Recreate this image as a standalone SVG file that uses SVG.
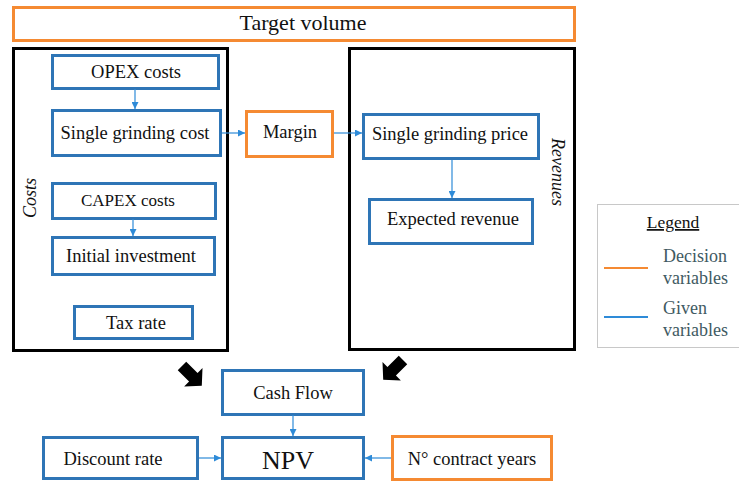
<svg xmlns="http://www.w3.org/2000/svg" width="739" height="482" viewBox="0 0 739 482" font-family="'Liberation Serif', 'DejaVu Serif', serif">
<defs>
<style>
text{fill:#111;text-anchor:middle}
.blue{fill:#fff;stroke:#2E75B6;stroke-width:3}
.orange{fill:#fff;stroke:#F58A32;stroke-width:3}
.frame{fill:none;stroke:#000;stroke-width:3}
.lbl{font-size:18.5px}
.link{stroke:#2E8BD8;stroke-width:1.2;fill:none;marker-end:url(#tip)}
.leg{font-size:18px;fill:#3F5A62;text-anchor:start}
</style>
<marker id="tip" viewBox="0 0 10 10" refX="10" refY="5" markerWidth="7" markerHeight="7" markerUnits="userSpaceOnUse" orient="auto">
<path d="M0,0 L10,5 L0,10 z" fill="#2E8BD8"/>
</marker>
<path id="block" d="M0,-6 L16,-6 L16,-13 L28,0 L16,13 L16,6 L0,6 z" fill="#000"/>
</defs>

<g id="target-volume">
<rect class="orange" x="13.5" y="7.5" width="561" height="33"/>
<text x="303" y="30" font-size="22">Target volume</text>
</g>

<g id="costs">
<rect class="frame" x="13.5" y="48.5" width="214" height="302"/>
<text transform="translate(36,198) rotate(-90)" font-size="18" font-style="italic">Costs</text>
</g>

<g id="revenues">
<rect class="frame" x="349.5" y="48.5" width="225" height="301"/>
<text transform="translate(552,172) rotate(90)" font-size="18" font-style="italic">Revenues</text>
</g>

<g id="opex">
<rect class="blue" x="52.5" y="55.5" width="166" height="33"/>
<text class="lbl" x="136" y="78">OPEX costs</text>
</g>
<g id="single-grinding-cost">
<rect class="blue" x="52.5" y="110.5" width="168" height="45"/>
<text class="lbl" x="135" y="139">Single grinding cost</text>
</g>
<g id="capex">
<rect class="blue" x="52.5" y="183.5" width="163" height="35"/>
<text x="128" y="206" font-size="17">CAPEX costs</text>
</g>
<g id="initial-investment">
<rect class="blue" x="52.5" y="237.5" width="162" height="37"/>
<text class="lbl" x="131" y="262">Initial investment</text>
</g>
<g id="tax-rate">
<rect class="blue" x="74.5" y="306.5" width="118" height="32"/>
<text class="lbl" x="136" y="329">Tax rate</text>
</g>

<g id="margin">
<rect class="orange" x="246.5" y="111.5" width="86" height="45"/>
<text class="lbl" x="290" y="138">Margin</text>
</g>

<g id="single-grinding-price">
<rect class="blue" x="363.5" y="114.5" width="175" height="44"/>
<text class="lbl" x="450" y="140">Single grinding price</text>
</g>
<g id="expected-revenue">
<rect class="blue" x="369.5" y="199.5" width="163" height="44"/>
<text class="lbl" x="453" y="225">Expected revenue</text>
</g>

<g id="cash-flow">
<rect class="blue" x="222.5" y="370.5" width="141" height="44"/>
<text class="lbl" x="293" y="399">Cash Flow</text>
</g>
<g id="npv">
<rect class="blue" x="222.5" y="437.5" width="141" height="41"/>
<text x="288" y="469" font-size="26">NPV</text>
</g>
<g id="discount-rate">
<rect class="blue" x="43.5" y="437.5" width="154" height="41"/>
<text class="lbl" x="113" y="465">Discount rate</text>
</g>
<g id="contract-years">
<rect class="orange" x="392.5" y="436.5" width="159" height="43"/>
<text class="lbl" x="472" y="465">N° contract years</text>
</g>

<g id="connectors">
<line class="link" x1="135" y1="89" x2="135" y2="109"/>
<line class="link" x1="133" y1="219" x2="133" y2="236"/>
<line class="link" x1="222" y1="133" x2="245" y2="133"/>
<line class="link" x1="334" y1="133" x2="362" y2="133"/>
<line class="link" x1="452" y1="160" x2="452" y2="198"/>
<line class="link" x1="293" y1="415" x2="293" y2="436"/>
<line class="link" x1="199" y1="458" x2="221" y2="458"/>
<line class="link" x1="391" y1="458" x2="365" y2="458"/>
<use href="#block" transform="translate(182,366) rotate(45)"/>
<use href="#block" transform="translate(403,360) rotate(135)"/>
</g>

<g id="legend">
<rect x="597.5" y="204.5" width="145" height="143" fill="#fff" stroke="#C8C8C8" stroke-width="1"/>
<text x="673" y="228" font-size="17.5" text-decoration="underline">Legend</text>
<line x1="604" y1="268" x2="648" y2="268" stroke="#F58A32" stroke-width="2"/>
<text class="leg" x="663" y="262">Decision</text>
<text class="leg" x="663" y="284">variables</text>
<line x1="604" y1="317" x2="648" y2="317" stroke="#2E8BD8" stroke-width="2"/>
<text class="leg" x="663" y="314">Given</text>
<text class="leg" x="663" y="336">variables</text>
</g>
</svg>
